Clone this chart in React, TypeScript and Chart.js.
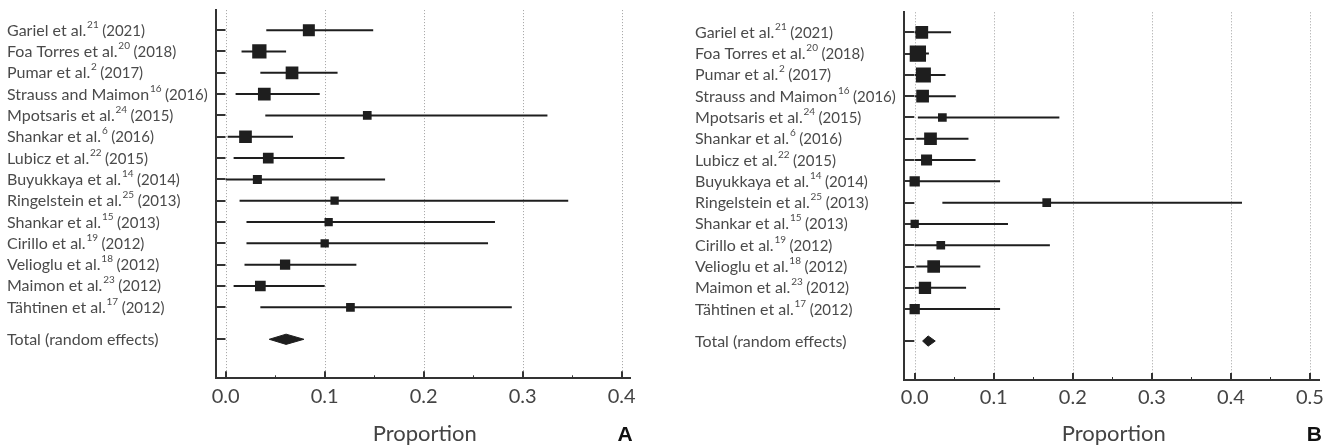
import React, { useEffect, useRef } from 'react';
import { Chart, registerables } from 'chart.js';

Chart.register(...registerables);

// ---------- data ----------
const studyNames = [
  'Gariel et al.', 'Foa Torres et al.', 'Pumar et al.', 'Strauss and Maimon',
  'Mpotsaris et al.', 'Shankar et al.', 'Lubicz et al.', 'Buyukkaya et al.',
  'Ringelstein et al.', 'Shankar et al.', 'Cirillo et al.', 'Velioglu et al.',
  'Maimon et al.', 'Tähtinen et al.',
];
const studyRefs = ['21', '20', '2', '16', '24', '6', '22', '14', '25', '15', '19', '18', '23', '17'];
const studyYears = ['2021', '2018', '2017', '2016', '2015', '2016', '2015', '2014', '2013', '2013', '2012', '2012', '2012', '2012'];
const totalLabel = 'Total (random effects)';
const axisTitle = 'Proportion';

// Panel A
const estA = [0.084, 0.034, 0.067, 0.039, 0.143, 0.020, 0.043, 0.032, 0.110, 0.104, 0.100, 0.060, 0.035, 0.126];
const lowA = [0.041, 0.016, 0.035, 0.010, 0.040, 0.002, 0.008, 0.000, 0.014, 0.021, 0.021, 0.019, 0.008, 0.035];
const highA = [0.149, 0.061, 0.113, 0.095, 0.325, 0.068, 0.120, 0.161, 0.346, 0.272, 0.265, 0.132, 0.100, 0.289];
const weightA = [12, 14.3, 12.7, 12.7, 8.7, 12.7, 10.7, 9, 8.3, 8.3, 8.3, 10.3, 10.7, 8.7];
const totalA = [0.044, 0.061, 0.079];
const ticksA = [0, 0.1, 0.2, 0.3, 0.4];

// Panel B
const estB = [0.009, 0.004, 0.011, 0.010, 0.035, 0.020, 0.015, 0.000, 0.167, 0.000, 0.033, 0.024, 0.013, 0.000];
const lowB = [0.000, 0.000, 0.000, 0.000, 0.004, 0.002, 0.000, 0.000, 0.035, 0.000, 0.000, 0.002, 0.000, 0.000];
const highB = [0.046, 0.018, 0.039, 0.052, 0.183, 0.068, 0.077, 0.108, 0.414, 0.118, 0.171, 0.083, 0.065, 0.108];
const weightB = [12.7, 16.3, 15, 12.7, 8.7, 12.7, 11, 10.3, 8.7, 8.3, 8.7, 12.7, 12.3, 10.3];
const totalB = [0.010, 0.017, 0.026];
const ticksB = [0, 0.1, 0.2, 0.3, 0.4, 0.5];

// ---------- layout ----------
const H = 446;
type Panel = {
  est: number[]; low: number[]; high: number[]; weight: number[]; total: number[];
  ticks: number[]; xMin: number; xMax: number; letter: string;
  left: number; right: number; top: number; bottom: number; labelX: number;
  width: number; pageLeft: number;
};

const panels: Panel[] = [
  {
    est: estA, low: lowA, high: highA, weight: weightA, total: totalA, ticks: ticksA,
    xMin: -0.0103, xMax: 0.4084, letter: 'A',
    left: 215.5, right: 630, top: 10, bottom: 378.3, labelX: 7, width: 666, pageLeft: 0,
  },
  {
    est: estB, low: lowB, high: highB, weight: weightB, total: totalB, ticks: ticksB,
    xMin: -0.01315, xMax: 0.5118, letter: 'B',
    left: 238.3, right: 653.3, top: 12.3, bottom: 380, labelX: 29, width: 667, pageLeft: 666,
  },
];

const INK = '#1e1e1e';
const AXIS = '#333333';
const TEXT = '#4a4a4a';

function makeChart(canvas: HTMLCanvasElement, p: Panel) {
  const n = p.est.length;
  const rows = p.est.map((_, i) => i + 1);
  const totalRow = n + 1.5;
  const diamondHalf = 0.24;

  const datasets: any[] = [];
  datasets.push({
    type: 'scatter',
    data: p.est.map((v, i) => ({ x: v, y: rows[i] })),
    pointStyle: 'rect',
    pointRadius: p.weight.map((w) => w / Math.SQRT2),
    pointBackgroundColor: INK,
    pointBorderWidth: 0,
    showLine: false,
    order: 0,
  });
  const [tl, tm, th] = p.total;
  datasets.push({
    type: 'line',
    data: [
      { x: tl, y: totalRow }, { x: tm, y: totalRow - diamondHalf },
      { x: th, y: totalRow }, { x: tm, y: totalRow + diamondHalf }, { x: tl, y: totalRow },
    ],
    borderColor: INK,
    borderWidth: 1,
    backgroundColor: INK,
    fill: 'shape',
    showLine: true,
    pointRadius: 0,
    tension: 0,
    order: 0,
  });
  p.est.forEach((_, i) => {
    datasets.push({
      type: 'line',
      data: [{ x: p.low[i], y: rows[i] }, { x: p.high[i], y: rows[i] }],
      borderColor: INK,
      borderWidth: 2,
      pointRadius: 0,
      showLine: true,
      fill: false,
      order: 1,
    });
  });

  const decor = {
    id: 'forestDecor',
    beforeDatasetsDraw(chart: any) {
      const { ctx, chartArea: a, scales } = chart;
      const x = scales.x, y = scales.y;
      ctx.save();
      // dotted vertical grid
      ctx.strokeStyle = '#a0a0a0';
      ctx.lineWidth = 1;
      ctx.setLineDash([1, 2]);
      p.ticks.forEach((v) => {
        const px = Math.round(x.getPixelForValue(v)) + 0.5;
        ctx.beginPath();
        ctx.moveTo(px, a.top);
        ctx.lineTo(px, a.bottom);
        ctx.stroke();
      });
      ctx.setLineDash([]);
      // inward y ticks
      ctx.strokeStyle = AXIS;
      ctx.lineWidth = 2;
      [...rows, totalRow].forEach((r) => {
        const py = Math.round(y.getPixelForValue(r));
        ctx.beginPath();
        ctx.moveTo(a.left, py);
        ctx.lineTo(a.left + 10, py);
        ctx.stroke();
      });
      // inward x ticks: major and minor
      p.ticks.forEach((v, i) => {
        const px = Math.round(x.getPixelForValue(v));
        ctx.lineWidth = 2;
        ctx.beginPath();
        ctx.moveTo(px, a.bottom);
        ctx.lineTo(px, a.bottom - 7);
        ctx.stroke();
        if (i < p.ticks.length - 1) {
          const mv = (v + p.ticks[i + 1]) / 2;
          const mx = Math.round(x.getPixelForValue(mv)) + 0.5;
          ctx.lineWidth = 1;
          ctx.beginPath();
          ctx.moveTo(mx, a.bottom);
          ctx.lineTo(mx, a.bottom - 3);
          ctx.stroke();
        }
      });
      ctx.restore();
    },
    afterDraw(chart: any) {
      const { ctx, chartArea: a, scales } = chart;
      const y = scales.y;
      ctx.save();
      ctx.fillStyle = TEXT;
      ctx.textAlign = 'left';
      ctx.textBaseline = 'alphabetic';
      const mainFont = '16px Lato';
      const supFont = '10px Lato';
      const yearFont = '15px Lato';
      studyNames.forEach((nm, i) => {
        const py = y.getPixelForValue(rows[i]) + 5.5;
        let cx = p.labelX;
        ctx.font = mainFont;
        ctx.fillText(nm, cx, py);
        cx += ctx.measureText(nm).width + 0.8;
        ctx.font = supFont;
        ctx.fillText(studyRefs[i], cx, py - 8);
        cx += ctx.measureText(studyRefs[i]).width + 3.5;
        ctx.font = yearFont;
        ctx.fillText('(' + studyYears[i] + ')', cx, py);
      });
      ctx.font = mainFont;
      ctx.fillText(totalLabel, p.labelX, y.getPixelForValue(totalRow) + 5.5);
      // axis title
      ctx.fillStyle = '#444';
      ctx.font = '22px Lato';
      ctx.textAlign = 'center';
      ctx.fillText(axisTitle, (a.left + a.right) / 2 + 2, 440.5);
      // panel letter
      ctx.fillStyle = '#111';
      ctx.font = 'bold 21px "Liberation Sans"';
      ctx.fillText(p.letter, a.right - 5, 440.5);
      ctx.restore();
    },
  };

  return new Chart(canvas, {
    type: 'scatter',
    data: { datasets },
    options: {
      responsive: false,
      animation: false,
      events: [],
      layout: { padding: { left: 0, top: p.top, right: p.width - p.right, bottom: 0 } },
      plugins: { legend: { display: false }, tooltip: { enabled: false } },
      scales: {
        x: {
          type: 'linear',
          min: p.xMin,
          max: p.xMax,
          afterBuildTicks: (s: any) => { s.ticks = p.ticks.map((v) => ({ value: v })); },
          afterFit: (s: any) => { s.height = H - p.bottom; },
          grid: { display: false, drawTicks: false },
          border: { display: true, color: AXIS, width: 2 },
          ticks: {
            color: '#444',
            font: { family: 'Lato', size: 20 },
            padding: 6,
            autoSkip: false,
            maxRotation: 0,
            callback: (v: any) => Number(v).toFixed(1),
          },
        },
        y: {
          type: 'linear',
          reverse: true,
          min: 0.06,
          max: 17.33,
          afterFit: (s: any) => { s.width = p.left; },
          grid: { display: false, drawTicks: false },
          border: { display: true, color: AXIS, width: 2 },
          ticks: { display: false },
        },
      },
    },
    plugins: [decor],
  });
}

function PanelChart({ p }: { p: Panel }) {
  const ref = useRef<HTMLCanvasElement | null>(null);
  useEffect(() => {
    if (!ref.current) return;
    const c = makeChart(ref.current, p);
    return () => c.destroy();
  }, [p]);
  return (
    <canvas
      ref={ref}
      width={p.width}
      height={H}
      style={{ position: 'absolute', left: p.pageLeft, top: 0, width: p.width, height: H, display: 'block' }}
    />
  );
}

export default function App() {
  return (
    <div style={{ position: 'fixed', left: 0, top: 0, width: 1333, height: H, background: '#fff' }}>
      {panels.map((p) => (
        <PanelChart key={p.letter} p={p} />
      ))}
    </div>
  );
}
